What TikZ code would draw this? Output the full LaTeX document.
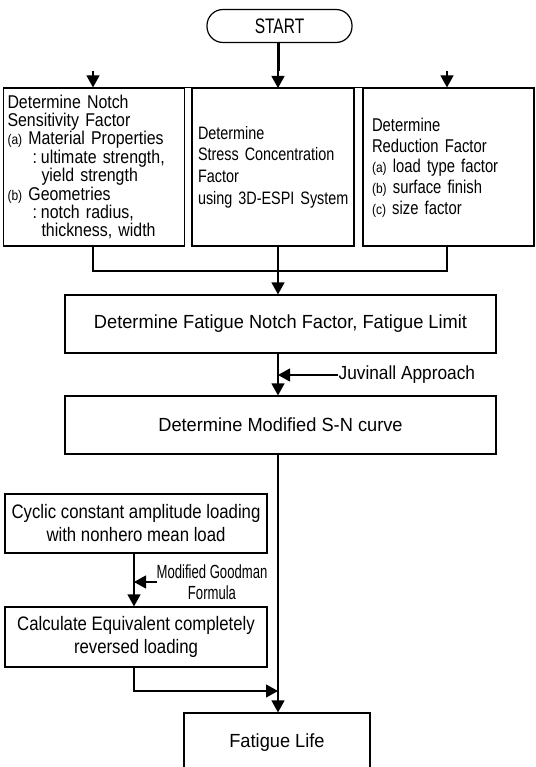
\documentclass[tikz,border=0pt]{standalone}
\usepackage{fontspec}
\setmainfont{Liberation Sans}
\newfontfamily\fA[FakeStretch=0.96]{Liberation Sans}
\newfontfamily\fB[FakeStretch=0.91]{Liberation Sans}
\newfontfamily\fC[FakeStretch=0.86]{Liberation Sans}
\newfontfamily\fD[FakeStretch=0.80]{Liberation Sans}
\newfontfamily\fE[FakeStretch=0.69]{Liberation Sans}
\newfontfamily\fF[FakeStretch=0.74]{Liberation Sans}
\usetikzlibrary{arrows.meta}
\newcommand{\fs}[2]{\fontsize{#1}{#2}\selectfont}
\newcommand{\lab}[1]{{\fC\fs{14}{14}(#1)}}
\begin{document}
\begin{tikzpicture}[x=1pt,y=-1pt,
  line width=1.2pt,
  arr/.style={-{Triangle[length=12pt,width=13pt]}},
  boxA/.style={draw, rectangle, inner ysep=0pt, align=left},
  boxC/.style={draw, rectangle, inner sep=0pt, align=center}
]
\useasboundingbox (0,0) rectangle (535,767);
\clip (0,0) rectangle (535,767);

% START
\node[draw, rounded corners=16pt, minimum width=145pt, minimum height=33pt, inner sep=0pt, font=\fF\fs{21}{21}]
  (start) at (279.5,26) {START};

% top three boxes
\node[boxA, minimum width=181pt, minimum height=158pt, inner xsep=4pt, text width=173pt, font=\fC\fs{18.5}{18.4}]
  (b1) at (94,167) {\mbox{Determine Notch}\\\mbox{Sensitivity Factor}\\\mbox{\lab{a} Material Properties}\\
  \hspace*{25pt}\mbox{:\hspace{4pt}ultimate strength,}\\\hspace*{34pt}\mbox{yield strength}\\
  \mbox{\lab{b} Geometries}\\\hspace*{25pt}\mbox{:\hspace{4pt}notch radius,}\\\hspace*{34pt}\mbox{thickness,\ width}};
\node[boxA, minimum width=162pt, minimum height=158pt, inner xsep=6pt, text width=150pt, font=\fD\fs{18}{21.6}]
  (b2) at (273,167) {\mbox{Determine}\\\mbox{Stress Concentration}\\\mbox{Factor}\\\mbox{using 3D-ESPI System}};
\node[boxA, minimum width=171pt, minimum height=158pt, inner xsep=9pt, text width=153pt, font=\fD\fs{18.5}{20.8}]
  (b3) at (448.5,167) {\\[-6pt]\mbox{Determine}\\\mbox{Reduction Factor}\\\mbox{\lab{a} load type factor}\\\mbox{\lab{b} surface finish}\\\mbox{\lab{c} size factor}};

% middle boxes
\node[boxC, minimum width=431pt, minimum height=58pt, font=\fA\fs{19}{19}]
  (b4) at (280.5,324) {Determine Fatigue Notch Factor, Fatigue Limit};
\node[boxC, minimum width=431pt, minimum height=58pt, font=\fA\fs{19}{19}]
  (b5) at (280.5,425) {Determine Modified S-N curve};

% left boxes
\node[boxC, minimum width=262pt, minimum height=59pt, font=\fC\fs{19.5}{23}]
  (b6) at (136,523.5) {Cyclic constant amplitude loading\\with nonhero mean load};
\node[boxC, minimum width=262pt, minimum height=60pt, font=\fC\fs{19.5}{23}]
  (b7) at (136,637) {Calculate Equivalent completely\\reversed loading};

% final
\node[boxC, minimum width=186pt, minimum height=60pt, font=\fA\fs{19}{19}]
  (b8) at (277,743) {Fatigue Life};

% labels
\node[anchor=west, inner sep=0pt, font=\fB\fs{19}{19}] (juv) at (338,375) {Juvinall Approach};
\node[inner sep=0pt, align=center, font=\fE\fs{19}{21}] (good) at (212,582) {Modified Goodman\\Formula};

% coordinates
\coordinate (top) at (278,71);
\coordinate (merge) at (278,271);
\coordinate (jb) at (278,691);
\coordinate (gtail) at (157,582);

% connectors from start
\draw (start.south) -- (start.south |- top);
\draw (b1.north -| 93,0) |- (b3.north -| 447,0);
\draw[arr] (278,43) -- (278,88);
\draw[arr] (93,71) -- (b1.north -| 93,0);
\draw[arr] (447,71) -- (b3.north -| 447,0);

% merge below
\draw (b1.south -| 93,0) |- (merge) -| (b3.south -| 447,0);
\draw[arr] (b2.south -| 278,0) -- (b4.north -| 278,0);

% b4 -> b5 with Juvinall
\draw[arr] (b4.south -| 278,0) -- (b5.north -| 278,0);
\draw[arr] (juv.west) -- (juv.west -| 278,0);

% b5 -> b8
\draw[arr] (b5.south -| 278,0) -- (b8.north -| 278,0);

% b6 -> b7 with Goodman
\draw[arr] (b6.south -| 134,0) -- (b7.north -| 134,0);
\draw[arr] (gtail) -- (gtail -| 134,0);

% b7 -> junction
\draw[arr] (b7.south -| 134,0) |- (jb);
\end{tikzpicture}
\end{document}
